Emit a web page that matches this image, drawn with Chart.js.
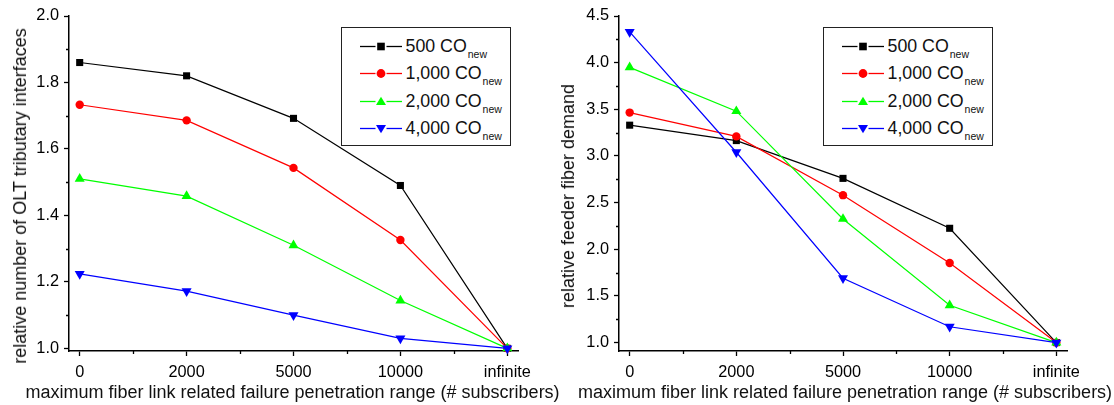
<!DOCTYPE html>
<html>
<head>
<meta charset="utf-8">
<script src="https://cdn.jsdelivr.net/npm/chart.js@4.4.0/dist/chart.umd.min.js"></script>
<style>
  body { margin: 0; background: #fff; font-family: "Liberation Sans", Arial, sans-serif; color: #111; }
  #wrap { position: relative; width: 1114px; height: 405px; overflow: hidden; background: #fff; }
  canvas { position: absolute; top: 0; }
  .xt { position: absolute; top: 382px; font-size: 18px; line-height: 20px; white-space: nowrap; transform: translateX(-50%); }
  .yt { position: absolute; font-size: 18px; line-height: 20px; white-space: nowrap; transform: translate(-50%, -50%) rotate(-90deg); }
  .legend { position: absolute; top: 27px; width: 170px; height: 119px; border: 1.5px solid #222; box-sizing: border-box; background: #fff; }
  .row { position: absolute; left: 17.5px; height: 21px; white-space: nowrap; font-size: 17.8px; line-height: 21px; }
  .row svg { position: absolute; left: 0; top: 0; }
  .row .txt { position: absolute; left: 46px; top: 0; }
  .row .sub { font-size: 10.5px; position: relative; top: 6px; margin-left: 1px; }
</style>
</head>
<body>
<div id="wrap">
  <canvas id="left" width="557" height="405" style="left:0"></canvas>
  <canvas id="right" width="557" height="405" style="left:557px"></canvas>
  <div class="yt" style="left:19.6px; top:195.5px">relative number of OLT tributary interfaces</div>
  <div class="yt" style="left:568px; top:195.5px">relative feeder fiber demand</div>
  <div class="xt" style="left:292.5px">maximum fiber link related failure penetration range (# subscribers)</div>
  <div class="xt" style="left:845px">maximum fiber link related failure penetration range (# subscribers)</div>
  <div class="legend" id="legLeft" style="left:341px"></div>
  <div class="legend" id="legRight" style="left:823px"></div>
</div>
<script>
const xLabels = ['0', '2000', '5000', '10000', 'infinite'];
const seriesNames = ['500', '1,000', '2,000', '4,000'];
const seriesColors = ['#000000', '#ff0000', '#00ff00', '#0000ff'];

// left: relative number of OLT tributary interfaces
const olt500 = [1.86, 1.82, 1.692, 1.49, 1.0];
const olt1000 = [1.733, 1.686, 1.543, 1.326, 1.0];
const olt2000 = [1.51, 1.458, 1.31, 1.144, 1.0];
const olt4000 = [1.224, 1.172, 1.1, 1.03, 1.0];

// right: relative feeder fiber demand
const feeder500 = [3.33, 3.165, 2.76, 2.225, 1.0];
const feeder1000 = [3.465, 3.21, 2.58, 1.853, 1.0];
const feeder2000 = [3.95, 3.48, 2.325, 1.4, 1.0];
const feeder4000 = [4.33, 3.04, 1.69, 1.17, 1.0];

const pointStyles = ['rect', 'circle', 'triangle', 'triangle'];
const pointRotations = [0, 0, 0, 180];
const pointRadii = [5, 4.2, 5.8, 5.8];

const FONT = '"Liberation Sans", Arial, sans-serif';

// Origin style short minor ticks
const minorTicks = {
  id: 'minorTicks',
  afterDraw(chart, args, opts) {
    const ctx = chart.ctx;
    const xs = chart.scales.x, ys = chart.scales.y;
    ctx.save();
    ctx.strokeStyle = '#000';
    ctx.lineWidth = 1.3;
    ctx.beginPath();
    xs.ticks.forEach(t => {
      if (!opts.xMajor(t.value)) {
        const px = Math.round(xs.getPixelForValue(t.value)) + 0.5;
        ctx.moveTo(px, xs.top);
        ctx.lineTo(px, xs.top + 3);
      }
    });
    ys.ticks.forEach(t => {
      if (!opts.yMajor(t.value)) {
        const py = Math.round(ys.getPixelForValue(t.value)) + 0.5;
        ctx.moveTo(ys.right, py);
        ctx.lineTo(ys.right - 3, py);
      }
    });
    ctx.stroke();
    ctx.restore();
  }
};

const isInt = v => Math.abs(v - Math.round(v)) < 1e-6;

function makeChart(id, series, yMin, yMax, yStep, yMajor, yWidth, padRight) {
  return new Chart(document.getElementById(id), {
    type: 'line',
    data: {
      datasets: series.map((vals, i) => ({
        label: seriesNames[i] + ' COnew',
        data: vals.map((v, k) => ({ x: k, y: v })),
        borderColor: seriesColors[i],
        backgroundColor: seriesColors[i],
        pointBackgroundColor: seriesColors[i],
        pointBorderWidth: 0,
        pointStyle: pointStyles[i],
        pointRotation: pointRotations[i],
        pointRadius: pointRadii[i],
        borderWidth: 1.2,
        tension: 0,
        clip: false,
        order: 4 - i
      }))
    },
    options: {
      responsive: false,
      animation: false,
      layout: { padding: { left: 0, top: 16, right: padRight, bottom: 0 } },
      plugins: {
        legend: { display: false },
        tooltip: { enabled: false },
        minorTicks: { xMajor: isInt, yMajor: yMajor }
      },
      scales: {
        x: {
          type: 'linear',
          min: -0.1,
          max: 4.1,
          afterFit: s => { s.height = 54; },
          ticks: {
            stepSize: 0.5,
            includeBounds: false,
            autoSkip: false,
            maxRotation: 0,
            padding: 7,
            color: '#000',
            font: { size: 16.3, family: FONT },
            callback: v => isInt(v) ? xLabels[Math.round(v)] : ''
          },
          grid: {
            drawOnChartArea: false,
            tickLength: 5,
            tickWidth: 1.3,
            tickColor: c => isInt(c.tick.value) ? '#000' : 'rgba(0,0,0,0)'
          },
          border: { color: '#000', width: 1.5 }
        },
        y: {
          min: yMin,
          max: yMax,
          afterFit: s => { s.width = yWidth; },
          ticks: {
            stepSize: yStep,
            includeBounds: false,
            padding: 5,
            color: '#000',
            font: { size: 16.3, family: FONT },
            callback: v => yMajor(v) ? v.toFixed(1) : ''
          },
          grid: {
            drawOnChartArea: false,
            tickLength: 5,
            tickWidth: 1.3,
            tickColor: c => yMajor(c.tick.value) ? '#000' : 'rgba(0,0,0,0)'
          },
          border: { color: '#000', width: 1.5 }
        }
      }
    },
    plugins: [minorTicks]
  });
}

makeChart('left', [olt500, olt1000, olt2000, olt4000], 0.992, 2.0, 0.1,
  v => Math.round(v * 10) % 2 === 0, 69, 39);
makeChart('right', [feeder500, feeder1000, feeder2000, feeder4000], 0.91, 4.5, 0.25,
  v => Math.round(v * 4) % 2 === 0, 62, 47);

function markerSvg(i) {
  const c = seriesColors[i];
  let m;
  if (i === 0) m = `<rect x="17.2" y="6.7" width="7.6" height="7.6" fill="${c}"/>`;
  else if (i === 1) m = `<circle cx="21" cy="10.5" r="4.4" fill="${c}"/>`;
  else if (i === 2) m = `<polygon points="21,5.8 26,14 16,14" fill="${c}"/>`;
  else m = `<polygon points="16,7 26,7 21,15.2" fill="${c}"/>`;
  return `<svg width="42" height="21" viewBox="0 0 42 21">` +
    `<line x1="0" y1="10.5" x2="15.5" y2="10.5" stroke="${c}" stroke-width="1.3"/>` +
    `<line x1="26.5" y1="10.5" x2="42" y2="10.5" stroke="${c}" stroke-width="1.3"/>` + m + `</svg>`;
}

function buildLegend(id) {
  const box = document.getElementById(id);
  seriesNames.forEach((name, i) => {
    const row = document.createElement('div');
    row.className = 'row';
    row.style.top = (20 + i * 27.4 - 10.5 - 1.5) + 'px';
    row.innerHTML = markerSvg(i) + `<span class="txt">${name} CO<span class="sub">new</span></span>`;
    box.appendChild(row);
  });
}
buildLegend('legLeft');
buildLegend('legRight');
</script>
</body>
</html>
